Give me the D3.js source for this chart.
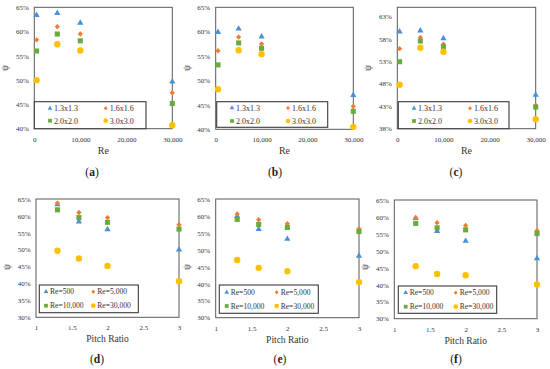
<!DOCTYPE html>
<html>
<head>
<meta charset="utf-8">
<script src="https://cdn.jsdelivr.net/npm/d3@7"></script>
<style>
  body { margin: 0; background: #fff; }
  svg { display: block; }
</style>
</head>
<body>
<div id="chart"></div>
<script>
// data
var reValues = [500, 5000, 10000, 30000];
var pitchValues = [1.3, 1.6, 2.0, 3.0];
var pitchNames = ['1.3x1.3', '1.6x1.6', '2.0x2.0', '3.0x3.0'];
var reNames = ['Re=500', 'Re=5,000', 'Re=10,000', 'Re=30,000'];

// rows = pitch (1.3, 1.6, 2.0, 3.0), cols = Re (500, 5000, 10000, 30000)
var psiA = [
  [0.634, 0.638, 0.618, 0.497],
  [0.583, 0.610, 0.595, 0.474],
  [0.560, 0.595, 0.581, 0.452],
  [0.500, 0.574, 0.561, 0.407]
];
var psiB = [
  [0.599, 0.606, 0.590, 0.470],
  [0.561, 0.589, 0.575, 0.447],
  [0.532, 0.577, 0.566, 0.437],
  [0.482, 0.562, 0.554, 0.405]
];
var psiC = [
  [0.596, 0.598, 0.581, 0.455],
  [0.558, 0.583, 0.568, 0.432],
  [0.529, 0.575, 0.562, 0.428],
  [0.478, 0.560, 0.551, 0.401]
];

var reTicks = [0, 10000, 20000, 30000];
var pitchTicks = [1, 1.5, 2, 2.5, 3];
var psiTicksTop = [0.40, 0.45, 0.50, 0.55, 0.60, 0.65];
var psiTicksC = [0.38, 0.43, 0.48, 0.53, 0.58, 0.63];
var psiTicksBottom = [0.30, 0.35, 0.40, 0.45, 0.50, 0.55, 0.60, 0.65];

var colors = ['#4a90d9', '#ed7d31', '#6aab3f', '#ffc000'];
var shapes = ['triangle', 'diamond', 'square', 'circle'];
var FONT = '"Liberation Serif", "DejaVu Serif", serif';

var svg = d3.select('#chart').append('svg')
  .attr('width', 550).attr('height', 369)
  .attr('font-family', FONT);
svg.append('rect').attr('width', 550).attr('height', 369).attr('fill', '#fff');

function markerPath(shape, big){
  var k = big ? 1 : 0.55;
  if (shape == 'triangle') return d3.symbol().type(d3.symbolTriangle).size(17 * k)();
  if (shape == 'square') return d3.symbol().type(d3.symbolSquare).size(26 * k)();
  if (shape == 'circle') return d3.symbol().type(d3.symbolCircle).size(32 * k)();
  return d3.symbol().type(d3.symbolSquare).size(14 * k)();
}

function drawPanel(p){
  var g = svg.append('g');
  var x = d3.scaleLinear().domain(p.xDomain).range([p.left, p.right]);
  var y = d3.scaleLinear().domain(p.yDomain).range([p.bottom, p.top]);

  g.append('rect')
    .attr('x', p.left).attr('y', p.top)
    .attr('width', p.right - p.left).attr('height', p.bottom - p.top)
    .attr('fill', 'none').attr('stroke', '#595959').attr('stroke-width', 1);

  // y ticks
  var ya = d3.axisLeft(y).tickValues(p.yTicks).tickSize(0).tickPadding(5.5)
    .tickFormat(d3.format('.0%'));
  var yg = g.append('g').attr('transform', 'translate(' + p.left + ',0)').call(ya);
  yg.select('.domain').remove();
  yg.attr('font-family', FONT);
  yg.selectAll('text').attr('font-size', 7).attr('font-family', FONT).attr('fill', '#333');

  // x ticks
  var xa = d3.axisBottom(x).tickValues(p.xTicks).tickSize(0).tickPadding(8)
    .tickFormat(p.xFormat);
  var xg = g.append('g').attr('transform', 'translate(0,' + p.bottom + ')').call(xa);
  xg.select('.domain').remove();
  xg.attr('font-family', FONT);
  xg.selectAll('text').attr('font-size', 7).attr('font-family', FONT).attr('fill', '#333');

  // axis titles
  g.append('text')
    .attr('x', (p.left + p.right) / 2).attr('y', p.bottom + 25)
    .attr('text-anchor', 'middle').attr('font-size', p.xTitleSize)
    .attr('font-family', FONT).attr('fill', '#333')
    .text(p.xTitle);
  g.append('text')
    .attr('transform', 'translate(' + (p.left - 26) + ',' + p.psiY + ') rotate(-90)')
    .attr('text-anchor', 'middle').attr('font-size', 9.5)
    .attr('font-family', FONT).attr('fill', '#333')
    .text('ψ');

  // panel letter
  var lab = g.append('text')
    .attr('x', p.letterX).attr('y', p.letterY)
    .attr('text-anchor', 'middle').attr('font-size', 11.5)
    .attr('font-family', FONT).attr('fill', '#222');
  lab.append('tspan').text('(');
  lab.append('tspan').attr('font-weight', 'bold').text(p.letter);
  lab.append('tspan').text(')');

  // points
  p.series.forEach(function(s, i){
    g.selectAll(null).data(s.points).enter().append('path')
      .attr('d', markerPath(shapes[i], true))
      .attr('transform', function(d){
        return 'translate(' + x(d[0]) + ',' + y(d[1]) + ')' + (shapes[i] == 'diamond' ? ' rotate(45)' : '');
      })
      .attr('fill', colors[i]);
  });

  // legend
  var L = p.legend;
  g.append('rect')
    .attr('x', L.x0).attr('y', L.y0)
    .attr('width', L.x1 - L.x0).attr('height', L.y1 - L.y0)
    .attr('fill', '#fff').attr('stroke', '#3a3a3a').attr('stroke-width', 1.1);
  p.series.forEach(function(s, i){
    var mx = L.cols[i % 2], my = L.rows[Math.floor(i / 2)];
    g.append('path')
      .attr('d', markerPath(shapes[i], false))
      .attr('transform', 'translate(' + mx + ',' + my + ')' + (shapes[i] == 'diamond' ? ' rotate(45)' : ''))
      .attr('fill', colors[i]);
    g.append('text')
      .attr('x', mx + 4).attr('y', my).attr('dy', '0.35em')
      .attr('font-size', L.size).attr('font-family', FONT).attr('fill', '#333')
      .text(s.name);
  });
}

function byRe(m){
  return pitchNames.map(function(n, i){
    return {name: n, points: reValues.map(function(r, j){ return [r, m[i][j]]; })};
  });
}
function byPitch(m){
  return reNames.map(function(n, j){
    return {name: n, points: pitchValues.map(function(pv, i){ return [pv, m[i][j]]; })};
  });
}

var fmtRe = d3.format(',');
var fmtPitch = function(d){ return String(d); };

var topPanels = [
  {letter: 'a', m: psiA, left: 34.3, right: 172.3, top: 7.3, bottom: 128.7, yDomain: [0.40, 0.65], yTicks: psiTicksTop,
   letterX: 92, legend: {x0: 34.3, x1: 146, y0: 101.7, y1: 128.7, cols: [50, 105.7], rows: [108.3, 120.7], size: 8}},
  {letter: 'b', m: psiB, left: 215.7, right: 353.3, top: 7.3, bottom: 129.3, yDomain: [0.40, 0.65], yTicks: psiTicksTop,
   letterX: 275, legend: {x0: 216.7, x1: 327.7, y0: 101.7, y1: 127.3, cols: [232, 288], rows: [108, 121], size: 8}},
  {letter: 'c', m: psiC, left: 397.3, right: 535.7, top: 7.3, bottom: 128.7, yDomain: [0.38, 0.65], yTicks: psiTicksC,
   letterX: 456, legend: {x0: 398.3, x1: 509, y0: 101.7, y1: 128.7, cols: [414, 470], rows: [108.3, 121], size: 8}}
];
topPanels.forEach(function(t){
  drawPanel({
    letter: t.letter, left: t.left, right: t.right, top: t.top, bottom: t.bottom,
    xDomain: [0, 30000], xTicks: reTicks, xFormat: fmtRe, xTitle: 'Re', xTitleSize: 10,
    yDomain: t.yDomain, yTicks: t.yTicks, psiY: 68,
    letterX: t.letterX, letterY: 176, series: byRe(t.m), legend: t.legend
  });
});

var bottomPanels = [
  {letter: 'd', m: psiA, left: 36, right: 179, top: 199, bottom: 317.3, letterX: 97,
   legend: {x0: 39.3, x1: 138.3, y0: 285, y1: 312.7, cols: [46, 93.3], rows: [291.7, 305.7], size: 7.6}},
  {letter: 'e', m: psiB, left: 215.7, right: 359, top: 199, bottom: 317.7, letterX: 280,
   legend: {x0: 219.3, x1: 318.3, y0: 285, y1: 313.3, cols: [226.7, 276.7], rows: [292.3, 306], size: 7.6}},
  {letter: 'f', m: psiC, left: 394.3, right: 537, top: 200, bottom: 318.7, letterX: 456,
   legend: {x0: 398.3, x1: 496.7, y0: 286, y1: 313.3, cols: [405.7, 455.7], rows: [292.7, 306.7], size: 7.6}}
];
bottomPanels.forEach(function(t){
  drawPanel({
    letter: t.letter, left: t.left, right: t.right, top: t.top, bottom: t.bottom,
    xDomain: [1, 3], xTicks: pitchTicks, xFormat: fmtPitch, xTitle: 'Pitch Ratio', xTitleSize: 9.5,
    yDomain: [0.30, 0.65], yTicks: psiTicksBottom, psiY: 267,
    letterX: t.letterX, letterY: 363, series: byPitch(t.m), legend: t.legend
  });
});
</script>
</body>
</html>
